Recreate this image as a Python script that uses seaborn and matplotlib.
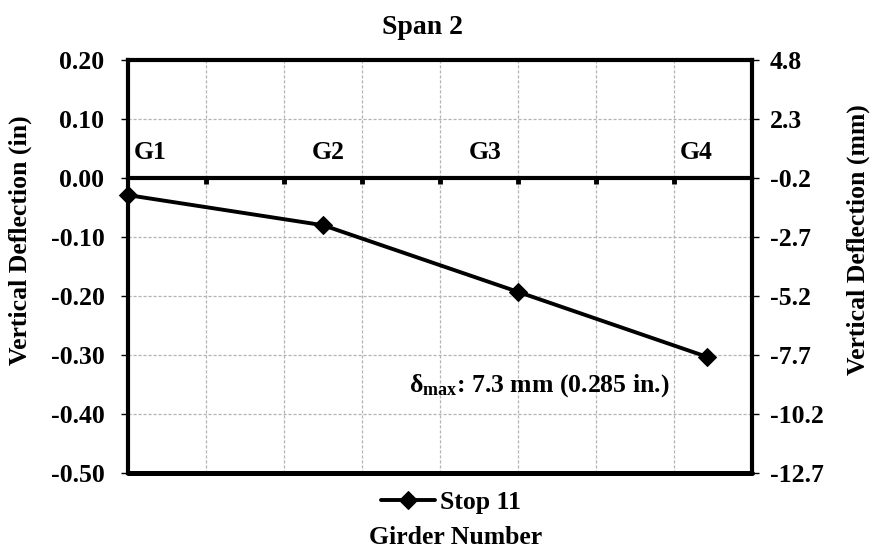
import matplotlib
matplotlib.use("Agg")
import matplotlib.pyplot as plt
import seaborn as sns
import pandas as pd

# ---- data ----
girders = ["G1", "G2", "G3", "G4"]
girder_pos = [0.0, 2.5, 5.0, 7.42]
deflection_in = [-0.029, -0.080, -0.193, -0.303]
series_name = "Stop 11"
left_ticks = [0.20, 0.10, 0.00, -0.10, -0.20, -0.30, -0.40, -0.50]
right_ticks = [4.8, 2.3, -0.2, -2.7, -5.2, -7.7, -10.2, -12.7]
title = "Span 2"
xlabel = "Girder Number"
ylabel_left = "Vertical Deflection (in)"
ylabel_right = "Vertical Deflection (mm)"
note = r"$\mathrm{δ}_{\mathrm{max}}$: 7.3 mm (0.285 in.)"

sns.set_theme(style="white")
plt.rcParams["font.family"] = ["Liberation Serif", "DejaVu Serif"]
plt.rcParams["font.weight"] = "bold"
plt.rcParams["text.color"] = "black"
plt.rcParams["axes.labelcolor"] = "black"
plt.rcParams["xtick.color"] = "black"
plt.rcParams["ytick.color"] = "black"
plt.rcParams["mathtext.fontset"] = "custom"
plt.rcParams["mathtext.rm"] = "Liberation Serif:bold"
plt.rcParams["mathtext.it"] = "Liberation Serif:bold"
plt.rcParams["mathtext.bf"] = "Liberation Serif:bold"

FS = 18.5
W, H = 874, 552
fig = plt.figure(figsize=(W / 100, H / 100), dpi=100)
ax = fig.add_axes([128 / W, 1 - 473 / H, 624 / W, 413 / H])

df = pd.DataFrame({"x": girder_pos, "y": deflection_in, "s": series_name})
sns.lineplot(data=df, x="x", y="y", hue="s", palette=["black"], marker="D",
             markersize=9, linewidth=2.8, markeredgecolor="black",
             ax=ax, legend=True, zorder=5, clip_on=False)

ax.set_xlim(0, 8)
ax.set_ylim(-0.5, 0.2)
ax.set_yticks(left_ticks)
ax.set_yticklabels([f"{v:.2f}" for v in left_ticks], fontsize=FS, fontweight="bold", color="black")
ax.set_xticks(range(1, 8))
ax.set_xticklabels([])
ax.set_xlabel("")
ax.set_ylabel("")

ax.grid(True, color="#b4b4b4", linestyle=(0, (2.5, 1.5)), linewidth=0.9)
ax.set_axisbelow(True)

lw = 3.0
for s in ["left", "right", "top", "bottom"]:
    ax.spines[s].set_visible(True)
    ax.spines[s].set_linewidth(lw)
    ax.spines[s].set_color("black")
ax.spines["bottom"].set_position(("data", 0))
ax.axhline(-0.5, color="black", linewidth=lw * 1.2, clip_on=False, zorder=6)
ax.tick_params(axis="x", direction="out", length=4, width=3.5, color="black", bottom=True)
ax.tick_params(axis="y", direction="out", length=5, width=1, color="black", pad=12, left=True)

ax2 = ax.twinx()
ax2.set_ylim(right_ticks[-1], right_ticks[0])
ax2.set_yticks(right_ticks)
ax2.set_yticklabels([f"{v:.1f}" for v in right_ticks], fontsize=FS, fontweight="bold", color="black")
ax2.tick_params(axis="y", direction="out", length=5, width=1, color="black", pad=8, right=True)
for s in ["left", "right", "top", "bottom"]:
    ax2.spines[s].set_visible(False)

# girder labels
label_x = [0.07, 2.57, 4.58, 7.29]
label_ha = ["left", "center", "center", "center"]
for name, lx, ha in zip(girders, label_x, label_ha):
    ax.text(lx, 0.044, name, ha=ha, va="center", fontsize=FS, fontweight="bold", color="black")

ax.text(5.27, -0.351, note, ha="center", va="center", fontsize=FS, fontweight="bold", color="black")

fig.text(423 / W, 1 - 28 / H, title, ha="center", va="center", fontsize=20, fontweight="bold", color="black")
fig.text(456 / W, 1 - 537 / H, xlabel, ha="center", va="center", fontsize=FS, fontweight="bold", color="black")
fig.text(20 / W, 1 - 240 / H, ylabel_left, ha="center", va="center", rotation=90,
         fontsize=FS, fontweight="bold", color="black")
fig.text(858 / W, 1 - 240 / H, ylabel_right, ha="center", va="center", rotation=90,
         fontsize=FS, fontweight="bold", color="black")

handles, labels = ax.get_legend_handles_labels()
ax.get_legend().remove()
leg = fig.legend(handles, labels, loc="center", bbox_to_anchor=(451 / W, 1 - 502 / H),
                 frameon=False, prop={"size": FS, "weight": "bold"},
                 handlelength=2.1, handletextpad=0.2, borderpad=0)
for t in leg.get_texts():
    t.set_color("black")

fig.savefig("out.png", dpi=100)
